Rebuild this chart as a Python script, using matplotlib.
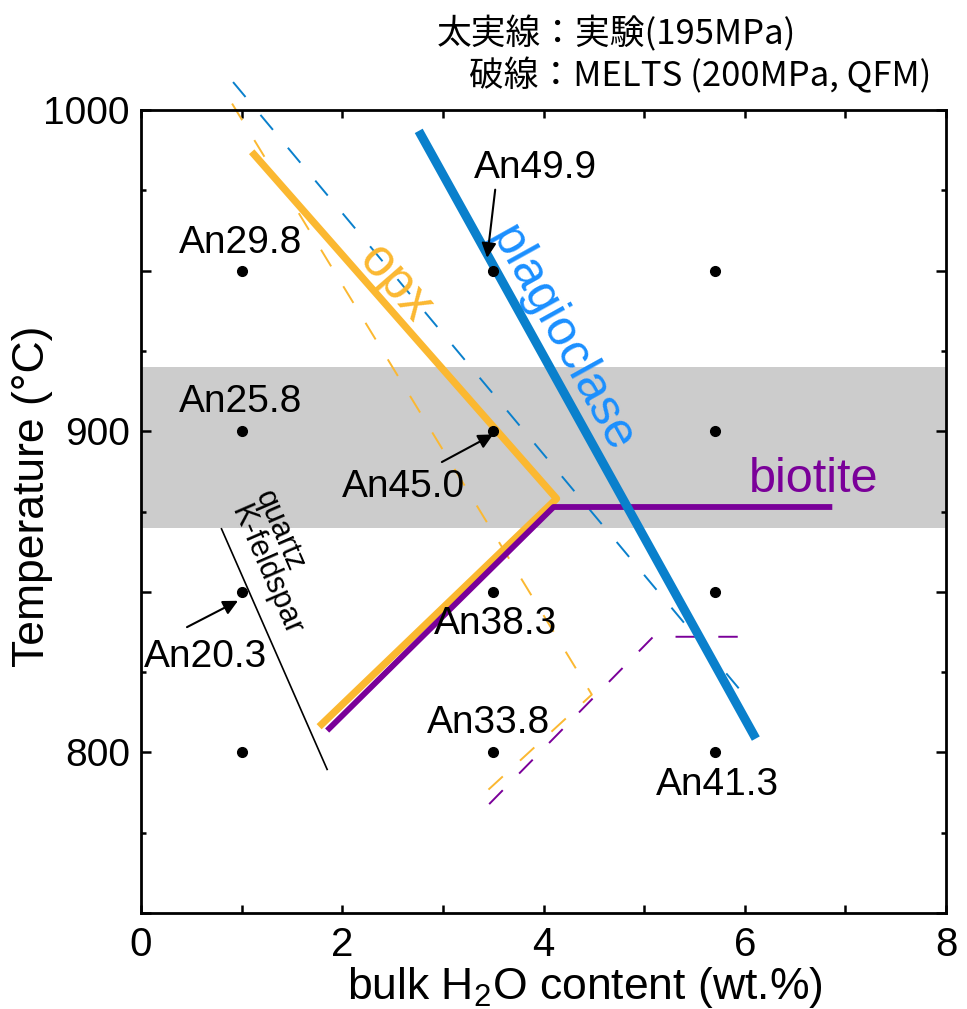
"""Phase relations vs bulk H2O: experiments (thick) and MELTS (dashed)."""

import matplotlib
matplotlib.use("Agg")
import matplotlib.pyplot as plt
from matplotlib.ticker import MultipleLocator, FuncFormatter

plt.rcParams["mathtext.fontset"] = "custom"
plt.rcParams["mathtext.rm"] = "Liberation Sans"
plt.rcParams["mathtext.it"] = "Liberation Sans:italic"

# ---- data ----
# experimental phase boundaries, 195 MPa
plag_x = [2.76, 6.11]
plag_t = [993.5, 804.3]
opx_x = [1.10, 4.13, 1.77]
opx_t = [987.0, 879.0, 808.0]
bt_x = [1.85, 4.10, 6.87]
bt_t = [806.8, 876.4, 876.4]
qz_x = [0.80, 1.85]
qz_t = [869.6, 794.7]

# MELTS, 200 MPa, QFM
plag_melts_x = [0.915, 6.00]
plag_melts_t = [1008.7, 817.7]
opx_melts_x = [0.905, 4.48, 3.39]
opx_melts_t = [1002.0, 818.0, 786.6]
bt_melts_x = [3.46, 5.09, 6.08]
bt_melts_t = [783.9, 836.0, 836.0]

# run conditions
run_x = [1.0, 1.0, 1.0, 1.0, 3.5, 3.5, 3.5, 3.5, 5.7, 5.7, 5.7, 5.7]
run_t = [950, 900, 850, 800, 950, 900, 850, 800, 950, 900, 850, 800]

band_t = (870, 920)

# plagioclase compositions
an_text = ["An29.8", "An25.8", "An20.3", "An49.9", "An45.0", "An38.3", "An33.8", "An41.3"]
an_x = [0.985, 0.985, 0.646, 3.92, 2.61, 3.52, 3.45, 5.73]
an_t = [958.7, 909.0, 829.8, 982.0, 882.6, 840.0, 809.0, 789.8]
# arrows: (tail x, tail T, head x, head T)
arrows = [(3.52, 975.2, 3.44, 954.0), (2.99, 890.4, 3.50, 899.0), (0.457, 839.0, 0.964, 847.2)]

C_OPX = "#FBB831"
C_PLAG = "#0A80CC"
C_PLAG_TXT = "#1A8FFF"
C_BT = "#7A0099"

ARIAL = ["Liberation Sans", "DejaVu Sans"]
JP = ["Noto Sans CJK JP", "DejaVu Sans"]

fig = plt.figure(figsize=(9.67, 10.09), dpi=100)
ax = fig.add_axes([141 / 967, 1 - 913 / 1009, 805 / 967, 803 / 1009])
ax.set_xlim(0, 8)
ax.set_ylim(750, 1000)

ax.axhspan(*band_t, color="#CCCCCC", lw=0, zorder=0)

# MELTS (dashed, thin)
dash = dict(lw=1.4, dashes=(10, 12), clip_on=False, zorder=2)
ax.plot(plag_melts_x, plag_melts_t, color=C_PLAG, **dash)
ax.plot(opx_melts_x, opx_melts_t, color=C_OPX, **dash)
ax.plot(bt_melts_x, bt_melts_t, color=C_BT, **dash)

# experiments (thick)
ax.plot(opx_x, opx_t, color=C_OPX, lw=5.2, solid_capstyle="butt", zorder=3)
ax.plot(bt_x, bt_t, color=C_BT, lw=4.2, solid_capstyle="butt", zorder=4)
ax.plot(plag_x, plag_t, color=C_PLAG, lw=6.5, solid_capstyle="butt", zorder=4)
ax.plot(qz_x, qz_t, color="black", lw=1.2, zorder=3)

ax.plot(run_x, run_t, "o", color="black", ms=7, zorder=5)

# phase labels
ax.text(2.53, 946, "opx", color=C_OPX, fontsize=38, family=ARIAL, rotation=-49,
        ha="center", va="center", rotation_mode="anchor")
ax.text(4.18, 928.6, "plagioclase", color=C_PLAG_TXT, fontsize=36, family=ARIAL,
        rotation=-61, ha="center", va="center", rotation_mode="anchor")
ax.text(6.69, 885, "biotite", color=C_BT, fontsize=35, family=ARIAL, ha="center", va="center")
ax.text(1.38, 869, "quartz", fontsize=22, family=ARIAL, rotation=-66.5,
        ha="center", va="center", rotation_mode="anchor")
ax.text(1.24, 856.5, "K-feldspar", fontsize=22, family=ARIAL, rotation=-66.5,
        ha="center", va="center", rotation_mode="anchor")

for s, x, t in zip(an_text, an_x, an_t):
    ax.text(x, t, s, fontsize=28, family=ARIAL, ha="center", va="center", zorder=6)

for x0, t0, x1, t1 in arrows:
    ax.annotate("", xy=(x1, t1), xytext=(x0, t0),
                arrowprops=dict(arrowstyle="-|>", color="black", lw=1.5,
                                mutation_scale=22, shrinkA=0, shrinkB=0), zorder=6)

# axes styling
for sp in ax.spines.values():
    sp.set_linewidth(2.0)
ax.xaxis.set_major_locator(MultipleLocator(2))
ax.xaxis.set_minor_locator(MultipleLocator(1))
ax.yaxis.set_major_locator(MultipleLocator(50))
ax.yaxis.set_minor_locator(MultipleLocator(25))
ax.yaxis.set_major_formatter(FuncFormatter(lambda v, p: f"{v:.0f}" if v % 100 == 0 else ""))
ax.tick_params(axis="both", which="both", direction="in", top=True, right=True, width=1.8)
ax.tick_params(axis="x", which="both", length=6, pad=9)
ax.tick_params(axis="y", which="major", length=7.5, pad=8)
ax.tick_params(axis="y", which="minor", length=3.8)
for lab in ax.get_xticklabels():
    lab.set_family(ARIAL)
    lab.set_fontsize(29)
for lab in ax.get_yticklabels():
    lab.set_family(ARIAL)
    lab.set_fontsize(28)

fig.text(585 / 967, 1 - 987 / 1009, r"bulk H$_2$O content (wt.%)", family=ARIAL, fontsize=32,
         ha="center", va="center")
fig.text(33 / 967, 1 - 496 / 1009, "Temperature (°C)", family=ARIAL, fontsize=32,
         rotation=90, ha="center", va="center")

fig.text(437 / 967, 1 - 34 / 1009, "太実線：実験(195MPa)", family=JP, fontsize=25,
         ha="left", va="center")
fig.text(469 / 967, 1 - 76 / 1009, "破線：MELTS (200MPa, QFM)", family=JP, fontsize=25,
         ha="left", va="center")

fig.savefig("out.png", dpi=100)
